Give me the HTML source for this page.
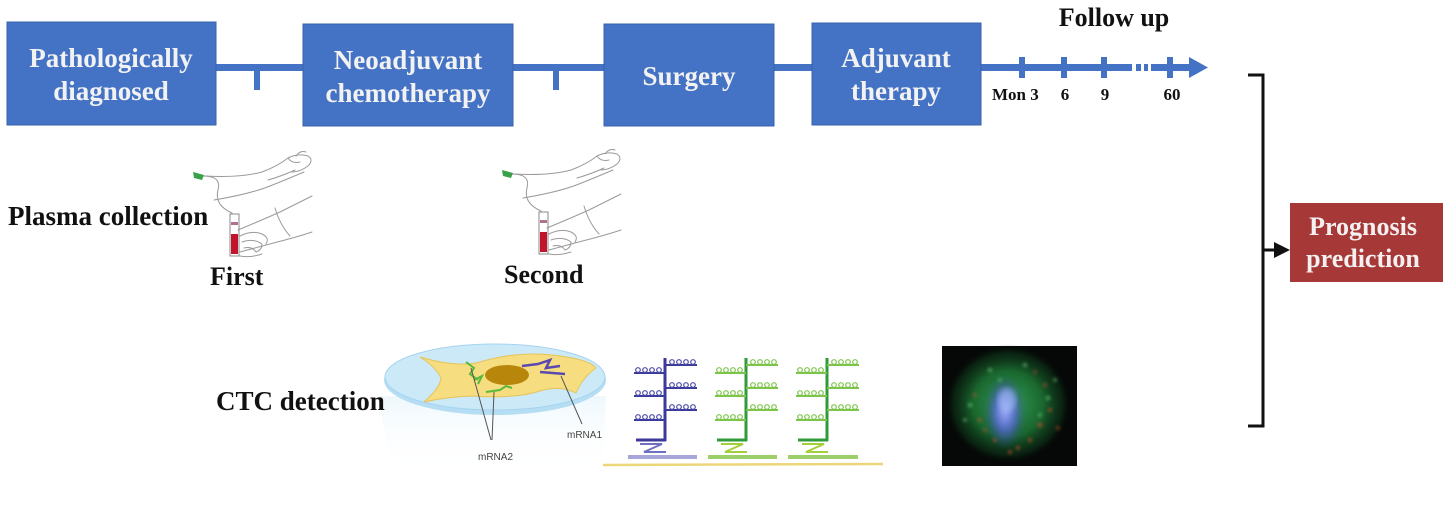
<!DOCTYPE html>
<html>
<head>
<meta charset="utf-8">
<style>
html,body{margin:0;padding:0;background:#fff;}
body{width:1448px;height:514px;overflow:hidden;position:relative;}
svg{position:absolute;left:0;top:0;}
</style>
</head>
<body>
<svg width="1448" height="514" viewBox="0 0 1448 514" xmlns="http://www.w3.org/2000/svg">
  <defs>
    <radialGradient id="gGreen" cx="50%" cy="50%" r="50%">
      <stop offset="0%" stop-color="#3fc06a" stop-opacity="0.85"/>
      <stop offset="55%" stop-color="#23903f" stop-opacity="0.7"/>
      <stop offset="85%" stop-color="#124a22" stop-opacity="0.4"/>
      <stop offset="100%" stop-color="#000" stop-opacity="0"/>
    </radialGradient>
    <radialGradient id="gBlue" cx="50%" cy="50%" r="50%">
      <stop offset="0%" stop-color="#a4b0ff" stop-opacity="1"/>
      <stop offset="50%" stop-color="#5a66e0" stop-opacity="0.8"/>
      <stop offset="100%" stop-color="#2a30a0" stop-opacity="0"/>
    </radialGradient>
    <linearGradient id="fade" x1="0" y1="0" x2="0" y2="1">
      <stop offset="0%" stop-color="#dcf0fa" stop-opacity="0.8"/>
      <stop offset="100%" stop-color="#ffffff" stop-opacity="0"/>
    </linearGradient>
    <filter id="blur1"><feGaussianBlur stdDeviation="1.5"/></filter>
    <filter id="blur3"><feGaussianBlur stdDeviation="3"/></filter>
  </defs>

  <!-- timeline lines -->
  <g fill="#4472c4">
    <rect x="214" y="64" width="92" height="7"/>
    <rect x="511" y="64" width="96" height="7"/>
    <rect x="772" y="64" width="42" height="7"/>
    <rect x="979" y="64" width="153" height="7"/>
    <rect x="1136" y="64" width="5" height="7"/>
    <rect x="1144" y="64" width="4" height="7"/>
    <rect x="1151" y="64" width="40" height="7"/>
    <polygon points="1189,57 1208,67.5 1189,78"/>
    <rect x="254" y="67" width="6" height="23"/>
    <rect x="553" y="67" width="6" height="23"/>
    <rect x="1019" y="57" width="6" height="21"/>
    <rect x="1061" y="57" width="6" height="21"/>
    <rect x="1101" y="57" width="6" height="21"/>
    <rect x="1167" y="57" width="6" height="21"/>
  </g>

  <!-- boxes -->
  <g fill="#4472c4" stroke="#3a63ad" stroke-width="1">
    <rect x="7" y="22" width="209" height="103"/>
    <rect x="303" y="24" width="210" height="102"/>
    <rect x="604" y="24" width="170" height="102"/>
    <rect x="812" y="23" width="169" height="102"/>
  </g>
  <g font-family="'Liberation Serif', serif" font-weight="bold" font-size="27" fill="#f2f2f2" text-anchor="middle">
    <text x="111" y="67">Pathologically</text>
    <text x="111" y="100">diagnosed</text>
    <text x="408" y="69">Neoadjuvant</text>
    <text x="408" y="102">chemotherapy</text>
    <text x="689" y="85">Surgery</text>
    <text x="896" y="67">Adjuvant</text>
    <text x="896" y="100">therapy</text>
  </g>

  <!-- follow up labels -->
  <g font-family="'Liberation Serif', serif" font-weight="bold" fill="#111">
    <text x="1114" y="26" font-size="26" text-anchor="middle">Follow up</text>
    <text x="992" y="100" font-size="17">Mon 3</text>
    <text x="1065" y="100" font-size="17" text-anchor="middle">6</text>
    <text x="1105" y="100" font-size="17" text-anchor="middle">9</text>
    <text x="1172" y="100" font-size="17" text-anchor="middle">60</text>
  </g>

  <!-- bracket -->
  <g stroke="#111" stroke-width="3" fill="none">
    <polyline points="1248,75 1263,75 1263,426 1248,426"/>
    <line x1="1263" y1="250" x2="1277" y2="250"/>
  </g>
  <polygon points="1274,242 1290,250 1274,258" fill="#111"/>

  <!-- prognosis box -->
  <rect x="1290" y="203" width="153" height="79" fill="#a63838"/>
  <g font-family="'Liberation Serif', serif" font-weight="bold" font-size="26" fill="#f5f0f0" text-anchor="middle">
    <text x="1363" y="235">Prognosis</text>
    <text x="1363" y="267">prediction</text>
  </g>

  <!-- section labels -->
  <g font-family="'Liberation Serif', serif" font-weight="bold" font-size="27" fill="#111">
    <text x="8" y="225">Plasma collection</text>
    <text x="210" y="285" font-size="26">First</text>
    <text x="504" y="283" font-size="26">Second</text>
  </g>

  <!-- hand drawing 1 -->
  <g id="hand1">
    <g fill="none" stroke="#9a9a9a" stroke-width="1" stroke-linecap="round">
      <path d="M205,176 Q240,178 262,172 Q278,166 288,158 Q298,153 308,156 Q314,160 308,166 Q300,172 292,172"/>
      <path d="M214,200 Q250,194 270,186 Q290,178 304,172"/>
      <path d="M288,158 Q292,164 300,162"/>
      <path d="M268,180 Q282,176 295,170"/>
      <path d="M296,156 Q300,150 306,152"/>
      <path d="M203,176 Q222,176 218,190 Q214,205 232,213"/>
      <path d="M238,230 Q262,220 280,212 Q296,204 312,196"/>
      <path d="M240,252 Q262,246 285,240 Q300,236 312,232"/>
      <path d="M275,208 Q280,225 290,236"/>
      <path d="M240,236 Q252,230 262,234 Q270,238 266,244"/>
      <path d="M242,242 Q254,238 262,244 Q262,250 256,252"/>
      <path d="M244,248 Q252,246 256,252"/>
      <path d="M240,256 Q250,258 262,254"/>
      <rect x="230" y="214" width="9" height="42" stroke="#888"/>
    </g>
    <rect x="231" y="234" width="7" height="20" fill="#c0152a"/>
    <rect x="231" y="222" width="7" height="3" fill="#b07090"/>
    <path d="M193,172 L204,175 L202,180 L194,178 Z" fill="#3aa04a"/>
  </g>

  <!-- hand drawing 2 -->
  <g transform="translate(309,-2)">
    <g fill="none" stroke="#9a9a9a" stroke-width="1" stroke-linecap="round">
      <path d="M205,176 Q240,178 262,172 Q278,166 288,158 Q298,153 308,156 Q314,160 308,166 Q300,172 292,172"/>
      <path d="M214,200 Q250,194 270,186 Q290,178 304,172"/>
      <path d="M288,158 Q292,164 300,162"/>
      <path d="M268,180 Q282,176 295,170"/>
      <path d="M296,156 Q300,150 306,152"/>
      <path d="M203,176 Q222,176 218,190 Q214,205 232,213"/>
      <path d="M238,230 Q262,220 280,212 Q296,204 312,196"/>
      <path d="M240,252 Q262,246 285,240 Q300,236 312,232"/>
      <path d="M275,208 Q280,225 290,236"/>
      <path d="M240,236 Q252,230 262,234 Q270,238 266,244"/>
      <path d="M242,242 Q254,238 262,244 Q262,250 256,252"/>
      <path d="M244,248 Q252,246 256,252"/>
      <path d="M240,256 Q250,258 262,254"/>
      <rect x="230" y="214" width="9" height="42" stroke="#888"/>
    </g>
    <rect x="231" y="234" width="7" height="20" fill="#c0152a"/>
    <rect x="231" y="222" width="7" height="3" fill="#b07090"/>
    <path d="M193,172 L204,175 L202,180 L194,178 Z" fill="#3aa04a"/>
  </g>

  <!-- CTC cell illustration -->
  <path d="M378,396 L606,396 L602,472 L392,472 Z" fill="url(#fade)" opacity="0.6"/>
  <text x="216" y="410" font-family="'Liberation Serif', serif" font-weight="bold" font-size="27" fill="#111">CTC detection</text>
  <ellipse cx="495" cy="380" rx="111" ry="35" fill="#b5def4" />
  <ellipse cx="495" cy="377" rx="110" ry="33" fill="#cce9f8" stroke="#a6d4ee" stroke-width="1"/>
  <path d="M420,357 Q458,368 480,362 Q520,350 560,356 Q590,360 596,368 Q582,378 576,393 Q560,385 540,391 Q515,399 472,396 Q446,397 424,402 Q440,388 441,378 Q436,367 420,357 Z" fill="#f6dd80" stroke="#e6c35a" stroke-width="1"/>
  <ellipse cx="507" cy="375" rx="22" ry="10" fill="#b8860b"/>
  <g stroke="#5ab83a" stroke-width="2" fill="none">
    <path d="M466,362 L474,368 L470,374 L478,380"/>
    <path d="M474,380 L482,376 L478,384"/>
    <path d="M486,392 L500,390 L506,386 L512,388"/>
  </g>
  <g stroke="#5a4ab0" stroke-width="2.5" fill="none">
    <path d="M522,366 L538,364 L550,360 L546,368 L560,366"/>
    <path d="M540,372 L565,374"/>
  </g>
  <g stroke="#555" stroke-width="1" fill="none">
    <line x1="471" y1="368" x2="491" y2="440"/>
    <line x1="494" y1="392" x2="492" y2="440"/>
    <line x1="561" y1="376" x2="582" y2="424"/>
  </g>
  <g font-family="'Liberation Sans', sans-serif" font-size="10" fill="#444">
    <text x="478" y="460">mRNA2</text>
    <text x="567" y="438">mRNA1</text>
  </g>

  <!-- branched DNA structures -->
  <line x1="603" y1="465" x2="883" y2="464" stroke="#ecd67a" stroke-width="2.5"/>
  <g id="s1">
    <g stroke="#3b3a9b" stroke-width="3" fill="none">
      <line x1="665" y1="358" x2="665" y2="441"/>
      <line x1="636" y1="440" x2="666" y2="440"/>
      <path d="M640,444 L662,444 L644,452 L666,452" stroke="#6f6fc0" stroke-width="2"/>
      <line x1="665" y1="365" x2="697" y2="365" stroke-width="2"/>
      <line x1="665" y1="388" x2="697" y2="388" stroke-width="2"/>
      <line x1="665" y1="410" x2="697" y2="410" stroke-width="2"/>
      <line x1="634" y1="373" x2="665" y2="373" stroke-width="2"/>
      <line x1="634" y1="396" x2="665" y2="396" stroke-width="2"/>
      <line x1="634" y1="420" x2="665" y2="420" stroke-width="2"/>
    </g>
    <g fill="none" stroke="#4a4aa8" stroke-width="1.2">
      <circle cx="672" cy="362" r="2.3"/><circle cx="679" cy="362" r="2.3"/><circle cx="686" cy="362" r="2.3"/><circle cx="693" cy="362" r="2.3"/>
      <circle cx="672" cy="385" r="2.3"/><circle cx="679" cy="385" r="2.3"/><circle cx="686" cy="385" r="2.3"/><circle cx="693" cy="385" r="2.3"/>
      <circle cx="672" cy="407" r="2.3"/><circle cx="679" cy="407" r="2.3"/><circle cx="686" cy="407" r="2.3"/><circle cx="693" cy="407" r="2.3"/>
      <circle cx="638" cy="370" r="2.3"/><circle cx="645" cy="370" r="2.3"/><circle cx="652" cy="370" r="2.3"/><circle cx="659" cy="370" r="2.3"/>
      <circle cx="638" cy="393" r="2.3"/><circle cx="645" cy="393" r="2.3"/><circle cx="652" cy="393" r="2.3"/><circle cx="659" cy="393" r="2.3"/>
      <circle cx="638" cy="417" r="2.3"/><circle cx="645" cy="417" r="2.3"/><circle cx="652" cy="417" r="2.3"/><circle cx="659" cy="417" r="2.3"/>
    </g>
    <rect x="628" y="455" width="69" height="4" fill="#a6a6d8"/>
  </g>
  <g id="s2" transform="translate(81,0)">
    <g stroke="#2f9a3a" stroke-width="3" fill="none">
      <line x1="665" y1="358" x2="665" y2="441"/>
      <line x1="636" y1="440" x2="666" y2="440"/>
      <path d="M640,444 L662,444 L644,452 L666,452" stroke="#a5cf3a" stroke-width="2"/>
    </g>
    <g stroke="#7cc44a" stroke-width="2" fill="none">
      <line x1="665" y1="365" x2="697" y2="365"/>
      <line x1="665" y1="388" x2="697" y2="388"/>
      <line x1="665" y1="410" x2="697" y2="410"/>
      <line x1="634" y1="373" x2="665" y2="373"/>
      <line x1="634" y1="396" x2="665" y2="396"/>
      <line x1="634" y1="420" x2="665" y2="420"/>
    </g>
    <g fill="none" stroke="#7cc44a" stroke-width="1.2">
      <circle cx="672" cy="362" r="2.3"/><circle cx="679" cy="362" r="2.3"/><circle cx="686" cy="362" r="2.3"/><circle cx="693" cy="362" r="2.3"/>
      <circle cx="672" cy="385" r="2.3"/><circle cx="679" cy="385" r="2.3"/><circle cx="686" cy="385" r="2.3"/><circle cx="693" cy="385" r="2.3"/>
      <circle cx="672" cy="407" r="2.3"/><circle cx="679" cy="407" r="2.3"/><circle cx="686" cy="407" r="2.3"/><circle cx="693" cy="407" r="2.3"/>
      <circle cx="638" cy="370" r="2.3"/><circle cx="645" cy="370" r="2.3"/><circle cx="652" cy="370" r="2.3"/><circle cx="659" cy="370" r="2.3"/>
      <circle cx="638" cy="393" r="2.3"/><circle cx="645" cy="393" r="2.3"/><circle cx="652" cy="393" r="2.3"/><circle cx="659" cy="393" r="2.3"/>
      <circle cx="638" cy="417" r="2.3"/><circle cx="645" cy="417" r="2.3"/><circle cx="652" cy="417" r="2.3"/><circle cx="659" cy="417" r="2.3"/>
    </g>
    <rect x="627" y="455" width="69" height="4" fill="#9ccf6a"/>
  </g>
  <g id="s3" transform="translate(162,0)">
    <g stroke="#2f9a3a" stroke-width="3" fill="none">
      <line x1="665" y1="358" x2="665" y2="441"/>
      <line x1="636" y1="440" x2="666" y2="440"/>
      <path d="M640,444 L662,444 L644,452 L666,452" stroke="#a5cf3a" stroke-width="2"/>
    </g>
    <g stroke="#7cc44a" stroke-width="2" fill="none">
      <line x1="665" y1="365" x2="697" y2="365"/>
      <line x1="665" y1="388" x2="697" y2="388"/>
      <line x1="665" y1="410" x2="697" y2="410"/>
      <line x1="634" y1="373" x2="665" y2="373"/>
      <line x1="634" y1="396" x2="665" y2="396"/>
      <line x1="634" y1="420" x2="665" y2="420"/>
    </g>
    <g fill="none" stroke="#7cc44a" stroke-width="1.2">
      <circle cx="672" cy="362" r="2.3"/><circle cx="679" cy="362" r="2.3"/><circle cx="686" cy="362" r="2.3"/><circle cx="693" cy="362" r="2.3"/>
      <circle cx="672" cy="385" r="2.3"/><circle cx="679" cy="385" r="2.3"/><circle cx="686" cy="385" r="2.3"/><circle cx="693" cy="385" r="2.3"/>
      <circle cx="672" cy="407" r="2.3"/><circle cx="679" cy="407" r="2.3"/><circle cx="686" cy="407" r="2.3"/><circle cx="693" cy="407" r="2.3"/>
      <circle cx="638" cy="370" r="2.3"/><circle cx="645" cy="370" r="2.3"/><circle cx="652" cy="370" r="2.3"/><circle cx="659" cy="370" r="2.3"/>
      <circle cx="638" cy="393" r="2.3"/><circle cx="645" cy="393" r="2.3"/><circle cx="652" cy="393" r="2.3"/><circle cx="659" cy="393" r="2.3"/>
      <circle cx="638" cy="417" r="2.3"/><circle cx="645" cy="417" r="2.3"/><circle cx="652" cy="417" r="2.3"/><circle cx="659" cy="417" r="2.3"/>
    </g>
    <rect x="626" y="455" width="70" height="4" fill="#9ccf6a"/>
  </g>

  <!-- fluorescence image -->
  <rect x="942" y="346" width="135" height="120" fill="#050807"/>
  <g>
    <ellipse cx="1008" cy="404" rx="64" ry="60" fill="url(#gGreen)"/>
    <g filter="url(#blur1)" fill="#c0502a" opacity="0.7">
      <circle cx="980" cy="420" r="2"/><circle cx="1040" cy="425" r="2.5"/><circle cx="1030" cy="440" r="2"/>
      <circle cx="995" cy="440" r="2"/><circle cx="1050" cy="410" r="2"/><circle cx="975" cy="395" r="1.8"/>
      <circle cx="1045" cy="385" r="1.8"/><circle cx="1018" cy="448" r="2"/><circle cx="985" cy="430" r="1.8"/>
      <circle cx="1035" cy="372" r="1.6"/><circle cx="1058" cy="428" r="1.8"/><circle cx="1010" cy="452" r="2"/>
    </g>
    <g filter="url(#blur1)" fill="#7ee08a" opacity="0.6">
      <circle cx="990" cy="370" r="2"/><circle cx="1025" cy="365" r="2"/><circle cx="970" cy="405" r="2"/>
      <circle cx="1048" cy="398" r="2"/><circle cx="1000" cy="380" r="1.8"/><circle cx="1040" cy="415" r="1.8"/>
      <circle cx="965" cy="420" r="1.8"/><circle cx="1055" cy="380" r="1.8"/>
    </g>
    <ellipse cx="1005" cy="412" rx="20" ry="36" fill="url(#gBlue)" filter="url(#blur3)"/>
    <ellipse cx="1007" cy="400" rx="9" ry="12" fill="#b0c8ff" opacity="0.55" filter="url(#blur3)"/>
  </g>
</svg>
</body>
</html>
